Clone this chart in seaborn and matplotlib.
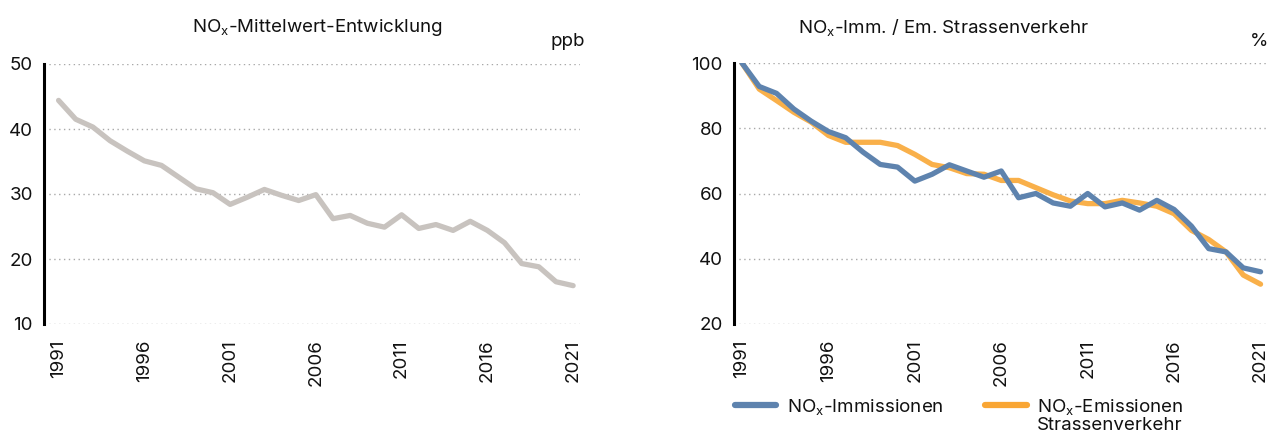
import matplotlib
matplotlib.use("Agg")
import matplotlib.pyplot as plt
import seaborn as sns
import pandas as pd
from matplotlib.lines import Line2D

years = list(range(1991, 2022))
nox_mean_ppb = [44.4, 41.5, 40.3, 38.2, 36.6, 35.1, 34.4, 32.6, 30.8, 30.2,
                28.4, 29.5, 30.7, 29.8, 29.0, 29.9, 26.2, 26.7, 25.5, 24.9,
                26.8, 24.7, 25.3, 24.4, 25.8, 24.4, 22.5, 19.3, 18.8, 16.5, 15.9]
immissionen_pct = [100, 92.8, 90.7, 85.9, 82.2, 79.0, 77.1, 72.7, 68.9, 68.1,
                   63.8, 65.9, 68.8, 66.9, 65.0, 66.9, 58.7, 60.0, 57.1, 56.1,
                   60.0, 55.9, 57.1, 54.9, 57.9, 55.1, 50.0, 43.1, 42.1, 37.2, 36.0]
emissionen_pct = [100, 92.0, 88.5, 84.9, 81.9, 77.8, 75.7, 75.7, 75.7, 74.7,
                  72.0, 68.9, 67.9, 66.1, 65.9, 64.0, 64.0, 61.8, 59.6, 57.7,
                  56.9, 56.9, 57.9, 57.1, 56.1, 53.8, 48.7, 45.9, 42.1, 35.0, 32.2]
xtick_years = [1991, 1996, 2001, 2006, 2011, 2016, 2021]
left_yticks = [10, 20, 30, 40, 50]
right_yticks = [20, 40, 60, 80, 100]

sns.set_style("white")
FONT = 'Inter'
plt.rcParams['font.family'] = [FONT, 'DejaVu Sans']
plt.rcParams['mathtext.fontset'] = 'custom'
plt.rcParams['mathtext.rm'] = FONT
plt.rcParams['mathtext.it'] = FONT

W, H = 1269, 434
fig = plt.figure(figsize=(W / 100, H / 100), dpi=100)
TXT = "#111111"
FS = 13.5

def px_axes(x0, y0, x1, y1):
    return fig.add_axes([x0 / W, 1 - y1 / H, (x1 - x0) / W, (y1 - y0) / H])

ax1 = px_axes(44, 64, 580, 324)
ax2 = px_axes(734, 63, 1268, 324)

df1 = pd.DataFrame({"Jahr": years, "ppb": nox_mean_ppb})
sns.lineplot(data=df1, x="Jahr", y="ppb", ax=ax1, color="#c8c3bf", lw=3.8,
             solid_capstyle="round", solid_joinstyle="round")

df2 = pd.DataFrame({"Jahr": years * 2,
                    "Wert": emissionen_pct + immissionen_pct,
                    "Serie": ["Em"] * len(years) + ["Imm"] * len(years)})
sns.lineplot(data=df2, x="Jahr", y="Wert", hue="Serie", ax=ax2,
             palette={"Em": "#f9b04a", "Imm": "#5e83ae"}, lw=3.8,
             hue_order=["Em", "Imm"], legend=False,
             solid_capstyle="round", solid_joinstyle="round")

for ax, yt, xl in [(ax1, left_yticks, (1990.15, 2021.4)),
                   (ax2, right_yticks, (1990.54, 2021.43))]:
    ax.set_xlim(*xl)
    ax.set_ylim(yt[0], yt[-1])
    ax.set_yticks(yt)
    ax.set_xticks(xtick_years)
    ax.set_xticklabels([str(y) for y in xtick_years], rotation=90)
    ax.set_xlabel("")
    ax.set_ylabel("")
    for s in ["top", "right", "bottom"]:
        ax.spines[s].set_visible(False)
    ax.spines["left"].set_linewidth(2.2)
    ax.spines["left"].set_color("black")
    ax.yaxis.grid(True, linestyle=(0, (1, 2.5)), color="#a8a8a8", lw=1)
    ax.xaxis.grid(False)
    ax.tick_params(axis="y", length=0, pad=8, labelsize=FS, colors=TXT)
    ax.tick_params(axis="x", length=0, pad=11, labelsize=FS, colors=TXT)
    ax.set_axisbelow(True)

fig.text(317 / W, 1 - 27 / H, r"NO$_\mathregular{x}$-Mittelwert-Entwicklung",
         ha="center", va="center", fontsize=FS, color=TXT)
fig.text(943 / W, 1 - 27 / H, r"NO$_\mathregular{x}$-Imm. / Em. Strassenverkehr",
         ha="center", va="center", fontsize=FS, color=TXT)
fig.text(568 / W, 1 - 42 / H, "ppb", ha="center", va="center", fontsize=FS, color=TXT)
fig.text(1259 / W, 1 - 42 / H, "%", ha="center", va="center", fontsize=FS, color=TXT)

h1 = Line2D([], [], color="#5e83ae", lw=4.5, solid_capstyle="round")
h2 = Line2D([], [], color="#f9a634", lw=4.5, solid_capstyle="round")
leg = fig.legend([h1, h2],
                 [r"NO$_\mathregular{x}$-Immissionen", r"NO$_\mathregular{x}$-Emissionen"],
                 loc="center left", bbox_to_anchor=(727.5 / W, 1 - 407 / H),
                 ncol=2, frameon=False, fontsize=FS, handlelength=2.2,
                 handletextpad=0.55, columnspacing=2.25, borderaxespad=0)
for t in leg.get_texts():
    t.set_color(TXT)
fig.canvas.draw()
t2 = leg.get_texts()[1]
bb = t2.get_window_extent()
fig.text(bb.x0 / W, 1 - 425 / H, "Strassenverkehr", ha="left", va="center",
         fontsize=FS, color=TXT)

fig.savefig("out.png", dpi=100)
